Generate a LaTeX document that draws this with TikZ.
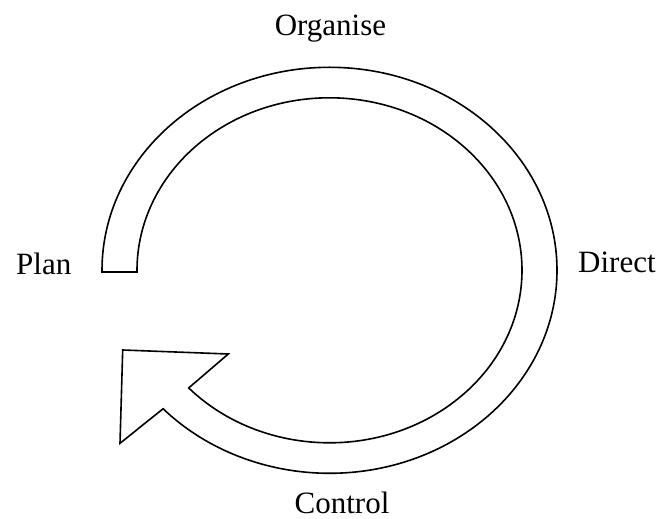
\documentclass[tikz,border=0pt]{standalone}
\usepackage{fontspec}
\setmainfont{Liberation Serif}
\usetikzlibrary{calc}
\begin{document}
\begin{tikzpicture}[x=1pt,y=1pt,
  band/.style={draw=black,line width=1.6pt,line join=miter,fill=white},
  stage/.style={inner sep=0pt,font=\fontsize{31}{31}\selectfont}]
\useasboundingbox (0,0) rectangle (661,519);
% centre of the cycle
\coordinate (c) at (329.5,248.7);
% curved band with its arrowhead
\draw[band]
  (102,247) -- ([xshift=-227.5pt]c)
  arc[start angle=180,end angle=-137,x radius=227.5,y radius=203]
  -- (120,75.7) -- (122.7,169) -- (228.3,165)
  -- ($(c)+(-137:192.5 and 172.5)$)
  arc[start angle=-137,end angle=180,x radius=192.5,y radius=172.5]
  -- (137,247) -- cycle;
% stage labels
\node[stage,anchor=base] (organise) at (330.5,483.3) {Organise};
\node[stage,anchor=base west] (plan) at (16,244) {Plan};
\node[stage,anchor=base west] (direct) at (578,246) {Direct};
\node[stage,anchor=base] (control) at (342,5.7) {Control};
\end{tikzpicture}
\end{document}
